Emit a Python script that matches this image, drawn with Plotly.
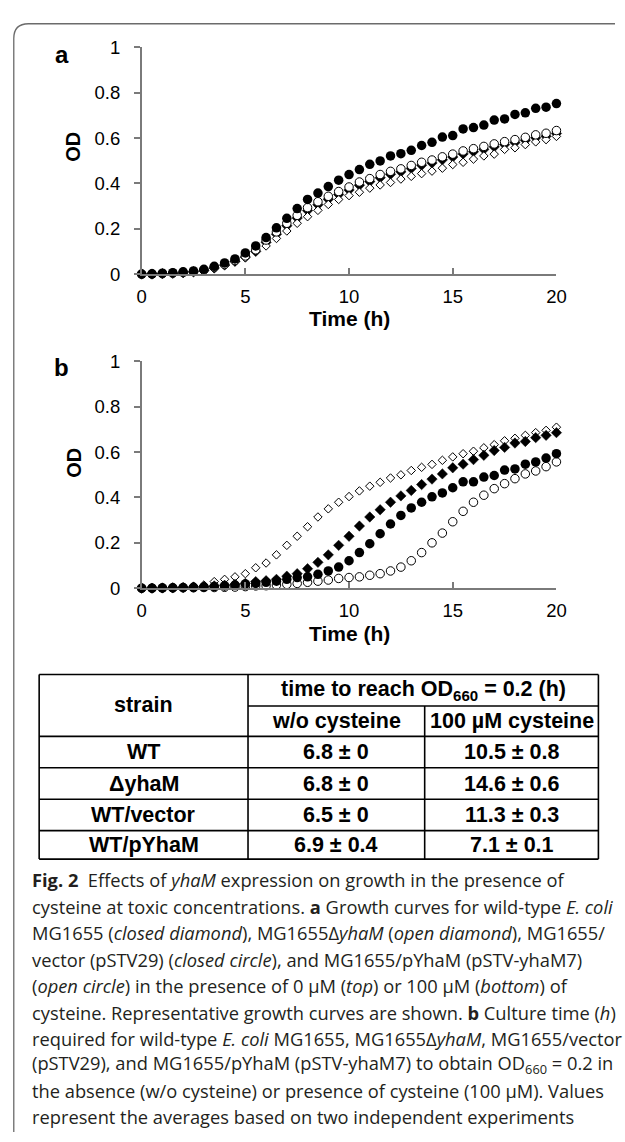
import plotly.graph_objects as go

W, H = 625, 1142

# ---------------- data ----------------
time_h = [0, 0.5, 1, 1.5, 2, 2.5, 3, 3.5, 4, 4.5, 5, 5.5, 6, 6.5, 7, 7.5, 8, 8.5, 9, 9.5,
          10, 10.5, 11, 11.5, 12, 12.5, 13, 13.5, 14, 14.5, 15, 15.5, 16, 16.5, 17, 17.5,
          18, 18.5, 19, 19.5, 20]

# panel a: 0 uM cysteine
a_closed_diamond = [0, 0, 0.002, 0.003, 0.006, 0.010, 0.016, 0.027, 0.040, 0.056,
                    0.075, 0.100, 0.140, 0.176, 0.213, 0.247, 0.280, 0.306, 0.330, 0.351,
                    0.371, 0.392, 0.408, 0.425, 0.440, 0.451, 0.466, 0.480, 0.490, 0.504,
                    0.516, 0.530, 0.540, 0.550, 0.561, 0.571, 0.580, 0.590, 0.601, 0.608,
                    0.620]
a_open_diamond = [0, 0, 0.001, 0.003, 0.005, 0.009, 0.014, 0.024, 0.038, 0.054,
                  0.072, 0.103, 0.124, 0.157, 0.190, 0.224, 0.253, 0.281, 0.307, 0.329,
                  0.346, 0.361, 0.379, 0.393, 0.404, 0.419, 0.431, 0.443, 0.454, 0.467,
                  0.483, 0.493, 0.507, 0.521, 0.529, 0.550, 0.557, 0.571, 0.583, 0.593,
                  0.607]
a_closed_circle = [0, 0.001, 0.004, 0.006, 0.010, 0.014, 0.021, 0.034, 0.049, 0.067,
                   0.093, 0.124, 0.161, 0.204, 0.246, 0.289, 0.329, 0.357, 0.386, 0.414,
                   0.439, 0.461, 0.484, 0.499, 0.521, 0.531, 0.546, 0.567, 0.581, 0.604,
                   0.611, 0.640, 0.646, 0.657, 0.679, 0.684, 0.704, 0.711, 0.731, 0.736,
                   0.752]
a_open_circle = [0, 0, 0.002, 0.004, 0.007, 0.011, 0.018, 0.030, 0.043, 0.060,
                 0.080, 0.107, 0.150, 0.186, 0.224, 0.259, 0.293, 0.319, 0.343, 0.364,
                 0.384, 0.406, 0.421, 0.439, 0.453, 0.464, 0.479, 0.493, 0.503, 0.517,
                 0.529, 0.543, 0.553, 0.563, 0.574, 0.584, 0.593, 0.603, 0.614, 0.621,
                 0.633]

# panel b: 100 uM cysteine
b_closed_diamond = [0, 0, 0.001, 0.002, 0.003, 0.005, 0.007, 0.010, 0.013, 0.017,
                    0.021, 0.029, 0.033, 0.039, 0.053, 0.064, 0.086, 0.114, 0.147, 0.189,
                    0.229, 0.274, 0.314, 0.346, 0.379, 0.407, 0.431, 0.457, 0.481, 0.504,
                    0.531, 0.547, 0.567, 0.586, 0.607, 0.621, 0.640, 0.647, 0.664, 0.674,
                    0.686]
b_open_diamond = [0, 0, 0.001, 0.002, 0.004, 0.008, 0.014, 0.029, 0.039, 0.050,
                  0.064, 0.090, 0.111, 0.147, 0.189, 0.229, 0.271, 0.314, 0.350, 0.379,
                  0.404, 0.429, 0.450, 0.467, 0.486, 0.500, 0.519, 0.533, 0.546, 0.564,
                  0.579, 0.593, 0.604, 0.619, 0.633, 0.650, 0.661, 0.674, 0.686, 0.696,
                  0.710]
b_closed_circle = [0, 0, 0.001, 0.002, 0.003, 0.004, 0.005, 0.007, 0.010, 0.014,
                   0.019, 0.021, 0.026, 0.031, 0.039, 0.047, 0.050, 0.061, 0.076, 0.093,
                   0.121, 0.157, 0.196, 0.240, 0.283, 0.321, 0.354, 0.379, 0.403, 0.420,
                   0.443, 0.469, 0.469, 0.490, 0.497, 0.521, 0.526, 0.547, 0.557, 0.574,
                   0.593]
b_open_circle = [0, 0, 0.001, 0.001, 0.002, 0.002, 0.003, 0.003, 0.004, 0.005,
                 0.007, 0.010, 0.011, 0.014, 0.017, 0.021, 0.026, 0.031, 0.036, 0.043,
                 0.047, 0.050, 0.057, 0.064, 0.076, 0.093, 0.121, 0.157, 0.200, 0.243,
                 0.293, 0.339, 0.379, 0.410, 0.439, 0.461, 0.483, 0.504, 0.517, 0.536,
                 0.557]

x_ticks = [0, 5, 10, 15, 20]
y_ticks = [0, 0.2, 0.4, 0.6, 0.8, 1]
y_tick_labels = ["0", "0.2", "0.4", "0.6", "0.8", "1"]

# table
strains = ["WT", "ΔyhaM", "WT/vector", "WT/pYhaM"]
wo_mean = [6.8, 6.8, 6.5, 6.9]
wo_sd = [0, 0, 0, 0.4]
cys_mean = [10.5, 14.6, 11.3, 7.1]
cys_sd = [0.8, 0.6, 0.3, 0.1]

caption_lines = [
    "<b>Fig. 2</b>  Effects of <i>yhaM</i> expression on growth in the presence of",
    "cysteine at toxic concentrations. <b>a</b> Growth curves for wild-type <i>E. coli</i>",
    "MG1655 (<i>closed diamond</i>), MG1655Δ<i>yhaM</i> (<i>open diamond</i>), MG1655/",
    "vector (pSTV29) (<i>closed circle</i>), and MG1655/pYhaM (pSTV-yhaM7)",
    "(<i>open circle</i>) in the presence of 0 µM (<i>top</i>) or 100 µM (<i>bottom</i>) of",
    "cysteine. Representative growth curves are shown. <b>b</b> Culture time (<i>h</i>)",
    "required for wild-type <i>E. coli</i> MG1655, MG1655Δ<i>yhaM</i>, MG1655/vector",
    "(pSTV29), and MG1655/pYhaM (pSTV-yhaM7) to obtain OD<sub>660</sub> = 0.2 in",
    "the absence (w/o cysteine) or presence of cysteine (100 µM). Values",
    "represent the averages based on two independent experiments",
]

# ---------------- layout helpers ----------------
def py(v):
    return 1 - v / H

def px(v):
    return v / W

AX_FONT = "Liberation Sans, Arial, sans-serif"
CAP_FONT = "Open Sans, Noto Sans, sans-serif"

fig = go.Figure()

styles = {
    "closed_diamond": dict(symbol="diamond", size=8, color="black", line=dict(color="black", width=0.5)),
    "open_diamond": dict(symbol="diamond", size=6.5, color="white", line=dict(color="black", width=1)),
    "closed_circle": dict(symbol="circle", size=9.5, color="black", line=dict(color="black", width=0)),
    "open_circle": dict(symbol="circle", size=8.5, color="white", line=dict(color="black", width=1)),
}

panel_a = [("closed_diamond", a_closed_diamond), ("open_diamond", a_open_diamond),
           ("open_circle", a_open_circle), ("closed_circle", a_closed_circle)]
panel_b = [("open_circle", b_open_circle), ("open_diamond", b_open_diamond),
           ("closed_circle", b_closed_circle), ("closed_diamond", b_closed_diamond)]

for name, vals in panel_a:
    fig.add_trace(go.Scatter(x=time_h, y=vals, mode="markers", marker=styles[name],
                             xaxis="x", yaxis="y", cliponaxis=False, showlegend=False))
for name, vals in panel_b:
    fig.add_trace(go.Scatter(x=time_h, y=vals, mode="markers", marker=styles[name],
                             xaxis="x2", yaxis="y2", cliponaxis=False, showlegend=False))

XL, XR = 140, 565
A_TOP, A_BOT = 37, 268
B_TOP, B_BOT = 357, 588
AXCOL = "#7a7a7a"

common_x = dict(range=[0, 20], tickvals=x_ticks, ticktext=[str(v) for v in x_ticks],
                showline=True, linecolor=AXCOL, linewidth=1.5, ticks="inside", ticklen=6,
                tickcolor=AXCOL, tickwidth=1.5, showgrid=False, zeroline=False,
                tickfont=dict(family=AX_FONT, size=18.5, color="black"),
                ticklabelstandoff=5, fixedrange=True)
common_y = dict(range=[0, 1], tickvals=y_ticks, ticktext=y_tick_labels,
                showline=True, linecolor=AXCOL, linewidth=1.5, ticks="outside", ticklen=6,
                tickcolor=AXCOL, tickwidth=1.5, showgrid=False, zeroline=False,
                tickfont=dict(family=AX_FONT, size=18.5, color="black"),
                ticklabelstandoff=10, fixedrange=True)

fig.update_layout(
    width=W, height=H, margin=dict(l=0, r=0, t=0, b=0),
    paper_bgcolor="white", plot_bgcolor="rgba(0,0,0,0)",
    xaxis=dict(domain=[px(XL), px(XR)], anchor="y", **common_x),
    yaxis=dict(domain=[py(A_BOT), py(A_TOP)], anchor="x", **common_y),
    xaxis2=dict(domain=[px(XL), px(XR)], anchor="y2", **common_x),
    yaxis2=dict(domain=[py(B_BOT), py(B_TOP)], anchor="x2", **common_y),
    xaxis3=dict(domain=[0, 1], range=[0, W], visible=False, anchor="y3", fixedrange=True),
    yaxis3=dict(domain=[0, 1], range=[H, 0], visible=False, anchor="x3", fixedrange=True),
    showlegend=False,
)

shapes = []
annotations = []

def line(x0, y0, x1, y1, w=1.6, c="black"):
    shapes.append(dict(type="line", xref="x3", yref="y3", x0=x0, y0=y0, x1=x1, y1=y1,
                       line=dict(color=c, width=w)))

def text(x, y, s, size, bold=False, family=AX_FONT, xanchor="center", angle=0, color="black"):
    annotations.append(dict(xref="x3", yref="y3", x=x, y=y, text=(f"<b>{s}</b>" if bold else s),
                            showarrow=False, xanchor=xanchor, yanchor="middle", textangle=angle,
                            font=dict(family=family, size=size, color=color)))

# outer frame with rounded corner
shapes.append(dict(type="path", xref="x3", yref="y3",
                   path="M 9,1150 L 9,28 Q 9,13 24,13 L 640,13",
                   line=dict(color="#6b6b6b", width=1.3)))

# panel labels and axis titles
text(58, 44, "a", 24, bold=True)
text(58, 363, "b", 24, bold=True)
text(70, 138, "OD", 20, bold=True, angle=-90)
text(70, 460, "OD", 20, bold=True, angle=-90)
text((XL + XR) / 2, 313, "Time (h)", 21, bold=True)
text((XL + XR) / 2, 634, "Time (h)", 21, bold=True)

# table
TL, TR = 35, 608
C1, C2 = 249, 430
R = [676, 708, 739, 771, 803, 835, 864]
line(TL, R[0], TR, R[0])
line(TL, R[-1], TR, R[-1])
line(TL, R[0], TL, R[-1])
line(TR, R[0], TR, R[-1])
line(C1, R[0], C1, R[-1])
line(C2, R[1], C2, R[-1])
line(C1, R[1], TR, R[1])
for r in R[2:-1]:
    line(TL, r, TR, r)

TFS = 21.5
text((TL + C1) / 2, (R[0] + R[2]) / 2, "strain", TFS, bold=True)
text((C1 + TR) / 2, (R[0] + R[1]) / 2, "time to reach OD<sub>660</sub> = 0.2 (h)", TFS, bold=True)
text((C1 + C2) / 2, (R[1] + R[2]) / 2, "w/o cysteine", TFS, bold=True)
text((C2 + TR) / 2, (R[1] + R[2]) / 2, "100 µM cysteine", TFS, bold=True)
for i, s in enumerate(strains):
    yc = (R[i + 2] + R[i + 3]) / 2
    text((TL + C1) / 2, yc, s, TFS, bold=True)
    text((C1 + C2) / 2, yc, f"{wo_mean[i]:g} ± {wo_sd[i]:g}", TFS, bold=True)
    text((C2 + TR) / 2, yc, f"{cys_mean[i]:g} ± {cys_sd[i]:g}", TFS, bold=True)

# caption
cap_y = [885, 912, 939, 966, 993, 1020, 1047, 1073, 1100, 1126]
for yy, s in zip(cap_y, caption_lines):
    text(26, yy, s, 18.3, family=CAP_FONT, xanchor="left", color="#231f20")

fig.update_layout(shapes=shapes, annotations=annotations)
fig.write_html("out.html", config={"displayModeBar": False},
               post_script="document.body.style.margin='0';document.body.style.overflow='hidden';")
